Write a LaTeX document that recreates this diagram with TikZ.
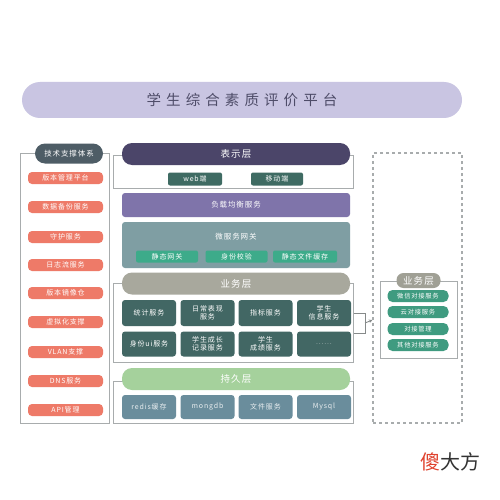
\documentclass[tikz,border=0pt]{standalone}
\usepackage{fontspec}
\setmainfont{Noto Sans CJK SC}
\newfontfamily\titlefont[LetterSpace=35]{Noto Sans CJK SC}
\newfontfamily\spfont[LetterSpace=12]{Noto Sans CJK SC}
\usetikzlibrary{arrows.meta}
\definecolor{titlebg}{HTML}{C9C5E2}
\definecolor{titletx}{HTML}{4E4C68}
\definecolor{hdrslate}{HTML}{4E5D66}
\definecolor{salmon}{HTML}{EE7A68}
\definecolor{darkpurple}{HTML}{4B4569}
\definecolor{darkteal}{HTML}{3F6B63}
\definecolor{midpurple}{HTML}{7F74AA}
\definecolor{slateteal}{HTML}{7F9EA3}
\definecolor{brightgreen}{HTML}{3DAB8A}
\definecolor{khaki}{HTML}{A8A89D}
\definecolor{gridteal}{HTML}{426764}
\definecolor{lightgreen}{HTML}{A5D19C}
\definecolor{storeblue}{HTML}{6A8D9C}
\definecolor{rightgreen}{HTML}{3F9B80}
\definecolor{framegrey}{HTML}{A8ACAD}
\definecolor{wmred}{HTML}{E0432F}
\tikzset{
  frame/.style={draw=framegrey, line width=1pt, fill=white, minimum width=#1, inner sep=0pt},
  pill/.style={rounded corners=10pt, inner sep=0pt, text=white, font=\spfont\fontsize{9.5}{10}\selectfont},
  item/.style={fill=salmon, rounded corners=4pt, minimum width=75pt, minimum height=12pt, inner sep=0pt, text=white, font=\spfont\fontsize{7}{7}\selectfont},
  btn/.style={rounded corners=2pt, inner sep=0pt, text=white, font=\spfont\fontsize{7}{7}\selectfont},
  gridbox/.style={fill=gridteal, rounded corners=3pt, minimum width=54pt, inner sep=0pt, text=white, align=center, font=\spfont\fontsize{7}{7.5}\selectfont},
  storebox/.style={fill=storeblue, rounded corners=3pt, minimum width=54pt, minimum height=24pt, inner sep=0pt, text=white!85!storeblue, font=\spfont\fontsize{7}{7}\selectfont},
  ritem/.style={fill=rightgreen, rounded corners=5pt, minimum width=61pt, minimum height=12pt, inner sep=0pt, text=white, font=\spfont\fontsize{6.3}{7}\selectfont},
  conn/.style={draw=framegrey!80!black, line width=0.9pt}
}
\begin{document}
\begin{tikzpicture}[x=1pt,y=-1pt]
\useasboundingbox (0,0) rectangle (500,500);
\fill[white] (0,0) rectangle (500,500);
% title
\node[fill=titlebg, rounded corners=18pt, minimum width=440pt, minimum height=36pt, inner sep=0pt, text=titletx, font=\titlefont\fontsize{14.5}{15}\selectfont] (title) at (242,100) {学生综合素质评价平台};
% left panel
\node[frame=89pt, minimum height=270pt] (leftframe) at (64.5,288) {};
\node[pill, fill=hdrslate, minimum width=68pt, minimum height=20pt, font=\spfont\fontsize{7.5}{8}\selectfont] (lefthdr) at (69,153.5) {技术支撑体系};
\node[item] (l1) at (65.5,178) {版本管理平台};
\node[item] (l2) at (65.5,207) {数据备份服务};
\node[item] (l3) at (65.5,237) {守护服务};
\node[item] (l4) at (65.5,265) {日志流服务};
\node[item] (l5) at (65.5,293) {版本镜像仓};
\node[item] (l6) at (65.5,322) {虚拟化支撑};
\node[item] (l7) at (65.5,352) {VLAN支撑};
\node[item] (l8) at (65.5,381) {DNS服务};
\node[item] (l9) at (65.5,410) {API管理};
% presentation layer
\node[frame=240pt, minimum height=33pt] (presframe) at (233,171.5) {};
\node[pill, fill=darkpurple, minimum width=228pt, minimum height=22pt] (pres) at (236,154) {表示层};
\node[btn, fill=darkteal, minimum width=54pt, minimum height=13pt] (web) at (195,179) {web端};
\node[btn, fill=darkteal, minimum width=52pt, minimum height=13pt] (mobile) at (277,179) {移动端};
% load balancing
\node[fill=midpurple, rounded corners=3pt, minimum width=228pt, minimum height=24pt, inner sep=0pt, text=white, font=\spfont\fontsize{7.5}{8}\selectfont] (lb) at (236,205) {负载均衡服务};
% gateway
\node[fill=slateteal, rounded corners=3pt, minimum width=228pt, minimum height=46pt, inner sep=0pt] (gw) at (236,245) {};
\node[text=white, font=\spfont\fontsize{7.5}{8}\selectfont, inner sep=0pt] (gwlabel) at (236,237) {微服务网关};
\node[btn, fill=brightgreen, minimum width=62pt, minimum height=12pt] (g1) at (167,256.5) {静态网关};
\node[btn, fill=brightgreen, minimum width=62pt, minimum height=12pt] (g2) at (236.5,256.5) {身份校验};
\node[btn, fill=brightgreen, minimum width=64pt, minimum height=12pt] (g3) at (305,256.5) {静态文件缓存};
% business layer
\node[frame=240pt, minimum height=79pt] (bizframe) at (233,322.5) {};
\node[pill, fill=khaki, minimum width=228pt, minimum height=22pt] (biz) at (236,283.5) {业务层};
\node[gridbox, minimum height=26pt] (b1) at (149,313) {统计服务};
\node[gridbox, minimum height=26pt] (b2) at (207.5,313) {日常表现\\服务};
\node[gridbox, minimum height=26pt] (b3) at (265.5,313) {指标服务};
\node[gridbox, minimum height=26pt] (b4) at (324,313) {学生\\信息服务};
\node[gridbox, minimum height=25pt] (b5) at (149,344) {身份ui服务};
\node[gridbox, minimum height=25pt] (b6) at (207.5,344) {学生成长\\记录服务};
\node[gridbox, minimum height=25pt] (b7) at (265.5,344) {学生\\成绩服务};
\node[gridbox, minimum height=25pt, text=white!60!gridteal] (b8) at (324,344) {......};
% persistence layer
\node[frame=240pt, minimum height=42pt] (persframe) at (233,402) {};
\node[pill, fill=lightgreen, minimum width=228pt, minimum height=22pt] (pers) at (236,379) {持久层};
\node[storebox] (s1) at (149,407) {redis缓存};
\node[storebox] (s2) at (207.5,407) {mongdb};
\node[storebox] (s3) at (265.5,407) {文件服务};
\node[storebox] (s4) at (324,407) {Mysql};
% right dashed panel
\node[draw=framegrey, line width=1.2pt, dash pattern=on 3pt off 3pt, minimum width=89pt, minimum height=270pt, inner sep=0pt] (dashbox) at (417.5,288) {};
\node[frame=77pt, minimum height=77pt] (rframe) at (418.5,319.5) {};
\node[pill, fill=khaki!95!black, minimum width=44pt, minimum height=15pt, rounded corners=7pt] (rhdr) at (418.5,280.5) {业务层};
\node[ritem] (r1) at (418,296) {微信对接服务};
\node[ritem] (r2) at (418,312) {云对接服务};
\node[ritem] (r3) at (418,329) {对接管理};
\node[ritem] (r4) at (418,345) {其他对接服务};
% bracket connector
\coordinate (bt) at (bizframe.east |- 0,313);
\coordinate (bb) at (bizframe.east |- 0,333);
\coordinate (bm) at (365,323);
\draw[conn] (bt) -- (365,313) -- (365,333) -- (bb);
\draw[conn, -{Stealth[length=3.5pt,width=3.5pt]}] (bm) -- (dashbox.west |- 0,320);
% watermark
\node[inner sep=0pt, anchor=east, font=\fontsize{20}{22}\selectfont] (wm) at (481,462) {\textcolor{wmred}{傻}\textcolor{black!80}{大方}};
\end{tikzpicture}
\end{document}
